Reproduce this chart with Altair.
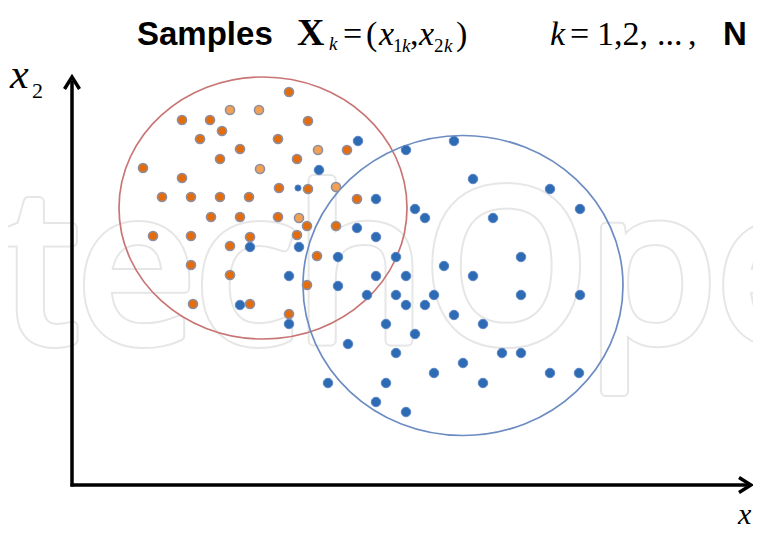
import altair as alt
import pandas as pd

# ---------------- data (x1, x2 in chart units, origin at axes corner) ----------------
orange_x1 = [21.7, 15.8, 18.7, 11.0, 13.8, 23.6, 15.0, 12.8, 20.6, 16.8, 24.6, 27.5, 14.8, 22.5,
             7.1, 18.8, 11.0, 20.7, 23.6, 26.4, 9.0, 11.9, 14.8, 17.7, 28.5, 13.9, 16.8, 20.6,
             22.7, 23.5, 26.4, 8.1, 11.9, 17.8, 22.5, 15.8, 24.5, 11.9, 15.8, 23.5, 12.1, 17.8, 21.7]
orange_x2 = [39.3, 37.5, 37.5, 36.5, 36.5, 36.4, 35.4, 34.6, 34.6, 33.6, 33.5, 33.5, 32.6, 32.6,
             31.7, 31.6, 30.7, 29.7, 29.6, 29.8, 28.8, 28.8, 28.8, 28.8, 28.6, 26.8, 26.8, 26.8,
             26.7, 25.9, 25.9, 24.9, 24.9, 24.8, 25.0, 23.9, 22.9, 22.0, 21.0, 20.0, 18.1, 18.1, 17.1]
orange_tone = ["dark", "light", "light", "dark", "dark", "dark", "dark", "dark", "dark", "dark",
               "light", "dark", "dark", "dark", "dark", "light", "dark", "dark", "dark", "light",
               "dark", "dark", "dark", "dark", "dark", "dark", "dark", "dark", "light", "dark",
               "dark", "dark", "dark", "dark", "dark", "dark", "dark", "dark", "dark", "dark",
               "dark", "dark", "dark"]

blue_x1 = [28.6, 33.4, 38.2, 24.7, 40.1, 47.8, 30.4, 50.8, 34.3, 35.3, 42.1, 28.5, 30.4, 22.7,
           32.4, 44.9, 26.6, 37.2, 40.1, 30.4, 33.4, 26.6, 29.5, 32.4, 36.2, 44.9, 50.8, 33.4,
           35.3, 38.2, 31.4, 41.1, 34.3, 27.6, 32.4, 43.0, 44.9, 39.1, 36.2, 47.8, 50.7, 25.6,
           31.4, 41.1, 30.4, 33.4, 17.8, 16.8, 21.7, 21.7]
blue_x2 = [34.4, 33.5, 34.4, 31.5, 30.6, 29.6, 28.6, 27.6, 27.6, 26.7, 26.7, 25.7, 24.8, 23.8,
           22.8, 22.8, 22.8, 21.9, 20.9, 20.9, 20.9, 19.9, 19.0, 19.0, 19.0, 19.0, 19.0, 18.0,
           18.0, 17.0, 16.1, 16.1, 15.1, 14.1, 13.2, 13.2, 13.2, 12.2, 11.2, 11.2, 11.2, 10.2,
           10.2, 10.2, 8.3, 7.3, 23.8, 18.0, 20.9, 16.1]
blue_small_x1 = [22.6]
blue_small_x2 = [29.7]

ellipse_red_center = (19.1, 27.7)
ellipse_blue_center = (39.1, 19.95)

axis_lines_u = [0.0, -0.15]
axis_lines_v = [-0.15, 0.0]
axis_lines_u2 = [0.0, 67.7]
axis_lines_v2 = [40.4, 0.0]

# title / label pieces
sans_bold_text = ["Samples", "N"]
sans_bold_u = [6.5, 65.1]
sans_bold_v = [44.0, 44.0]
sans_bold_size = [33, 33]

serif_bold_text = ["X"]
serif_bold_u = [22.5]
serif_bold_v = [44.0]
serif_bold_size = [38]

serif_italic_text = ["k", "x", "k", "x", "k", "k", "x", "x"]
serif_italic_u = [25.7, 30.7, 33.0, 34.7, 37.2, 47.8, -6.2, 66.6]
serif_italic_v = [43.5, 44.0, 43.3, 44.0, 43.3, 44.0, 39.7, -3.9]
serif_italic_size = [19, 34, 19, 34, 19, 34, 42, 30]

serif_text = ["=", "(", "1", ",", "2", ")", "=", "1,2,", "...", ",", "2"]
serif_u = [27.1, 29.4, 32.1, 33.8, 36.2, 38.4, 49.8, 52.5, 58.5, 61.6, -4.0]
serif_v = [44.0, 44.0, 43.3, 44.0, 43.3, 44.0, 44.0, 44.0, 44.0, 44.0, 38.7]
serif_size = [34, 34, 19, 34, 19, 34, 34, 34, 34, 34, 22]

watermark_text = ["IntechOpen"]
watermark_u = [-25.7]
watermark_v = [14.4]

# ---------------- scales ----------------
xs = alt.Scale(domain=[-6.4, 68.1], nice=False, zero=False)
ys = alt.Scale(domain=[-4.4, 47.7], nice=False, zero=False)
X = alt.X("u:Q", scale=xs, axis=None)
Y = alt.Y("v:Q", scale=ys, axis=None)


def ellipse_path(ratio):
    k = 0.5523
    ky = k * ratio
    r = ratio
    return (f"M -1 0 C -1 {-ky:.4f} {-k} {-r:.4f} 0 {-r:.4f} "
            f"C {k} {-r:.4f} 1 {-ky:.4f} 1 0 "
            f"C 1 {ky:.4f} {k} {r:.4f} 0 {r:.4f} "
            f"C {-k} {r:.4f} -1 {ky:.4f} -1 0 Z")


wm_df = pd.DataFrame({"u": watermark_u, "v": watermark_v, "t": watermark_text})
wm_outer = alt.Chart(wm_df).mark_text(
    align="left", baseline="alphabetic", font="Open Sans", fontSize=210,
    fillOpacity=0, stroke="#e6e6e6", strokeWidth=12, strokeJoin="round"
).encode(x=X, y=Y, text="t:N")
wm_inner = alt.Chart(wm_df).mark_text(
    align="left", baseline="alphabetic", font="Open Sans", fontSize=210,
    fill="white", fillOpacity=1, stroke="white", strokeWidth=8, strokeJoin="round"
).encode(x=X, y=Y, text="t:N")

red_ell = alt.Chart(pd.DataFrame({"u": [ellipse_red_center[0]], "v": [ellipse_red_center[1]]})).mark_point(
    shape=ellipse_path(131 / 144), size=288 ** 2, filled=False, color="#C87574",
    strokeWidth=1.7, opacity=1
).encode(x=X, y=Y)

blue_ell = alt.Chart(pd.DataFrame({"u": [ellipse_blue_center[0]], "v": [ellipse_blue_center[1]]})).mark_point(
    shape=ellipse_path(150 / 160), size=320 ** 2, filled=False, color="#6C8CC2",
    strokeWidth=1.7, opacity=1
).encode(x=X, y=Y)

axes = alt.Chart(pd.DataFrame({"u": axis_lines_u, "v": axis_lines_v,
                               "u2": axis_lines_u2, "v2": axis_lines_v2})).mark_rule(
    color="black", strokeWidth=3.5
).encode(x=X, y=Y, x2="u2:Q", y2="v2:Q")

arrow_up = alt.Chart(pd.DataFrame({"u": [0.0], "v": [40.8]})).mark_point(
    shape="M -1 1.6 L 0 0 L 1 1.6", size=225, filled=False, color="black",
    strokeWidth=3.5, opacity=1, strokeJoin="miter"
).encode(x=X, y=Y)

arrow_right = alt.Chart(pd.DataFrame({"u": [67.9], "v": [0.0]})).mark_point(
    shape="M -1.6 -1 L 0 0 L -1.6 1", size=225, filled=False, color="black",
    strokeWidth=3.5, opacity=1, strokeJoin="miter"
).encode(x=X, y=Y)

blue_pts = alt.Chart(pd.DataFrame({"u": blue_x1, "v": blue_x2})).mark_circle(
    size=90, color="#2E6BB5", stroke="#5A86C4", strokeWidth=1, opacity=1
).encode(x=X, y=Y)

blue_small = alt.Chart(pd.DataFrame({"u": blue_small_x1, "v": blue_small_x2})).mark_circle(
    size=38, color="#2E6BB5", stroke="#5A86C4", strokeWidth=1, opacity=1
).encode(x=X, y=Y)

orange_pts = alt.Chart(pd.DataFrame({"u": orange_x1, "v": orange_x2, "tone": orange_tone})).mark_circle(
    size=82, stroke="#8C8FA3", strokeWidth=1.6, opacity=1
).encode(x=X, y=Y, color=alt.Color("tone:N", scale=alt.Scale(domain=["dark", "light"],
                                                             range=["#E46C0A", "#F4A052"]), legend=None))


def text_layer(texts, us, vs, sizes, font, weight="normal", style="normal"):
    df = pd.DataFrame({"t": texts, "u": us, "v": vs, "s": sizes})
    return alt.Chart(df).mark_text(
        align="left", baseline="alphabetic", font=font, fontWeight=weight, fontStyle=style,
        color="black"
    ).encode(x=X, y=Y, text="t:N", size=alt.Size("s:Q", scale=None, legend=None))


t1 = text_layer(sans_bold_text, sans_bold_u, sans_bold_v, sans_bold_size, "Liberation Sans", weight="bold")
t2 = text_layer(serif_bold_text, serif_bold_u, serif_bold_v, serif_bold_size, "Liberation Serif", weight="bold")
t3 = text_layer(serif_italic_text, serif_italic_u, serif_italic_v, serif_italic_size, "Liberation Serif", style="italic")
t4 = text_layer(serif_text, serif_u, serif_v, serif_size, "Liberation Serif")

chart = alt.layer(
    wm_outer, wm_inner, red_ell, blue_ell, axes, arrow_up, arrow_right, blue_pts, blue_small,
    orange_pts, t1, t2, t3, t4
).properties(
    width=745, height=521, autosize=alt.AutoSizeParams(type="none"), padding=0, background="white"
).configure_view(stroke=None)

chart.save("out.html", embed_options={"renderer": "svg", "actions": False})
